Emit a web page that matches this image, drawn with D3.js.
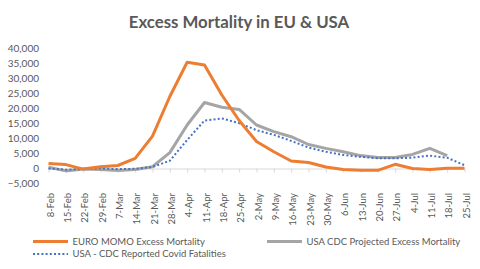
<!DOCTYPE html>
<html>
<head>
<meta charset="utf-8">
<script src="https://cdn.jsdelivr.net/npm/d3@7"></script>
<style>
  body { margin: 0; background: #fff; }
  svg { display: block; font-family: Lato, "Open Sans", sans-serif; }
</style>
</head>
<body>
<svg id="chart"></svg>
<script>
let width = 480;
let height = 269;

let weeks = ['8-Feb','15-Feb','22-Feb','29-Feb','7-Mar','14-Mar','21-Mar','28-Mar','4-Apr','11-Apr',
  '18-Apr','25-Apr','2-May','9-May','16-May','23-May','30-May','6-Jun','13-Jun','20-Jun',
  '27-Jun','4-Jul','11-Jul','18-Jul','25-Jul'];

let euroMomo = [1700, 1300, -200, 600, 1000, 3400, 10800, 24000, 35400, 34500,
  24500, 16000, 9000, 5600, 2500, 2000, 500, -300, -600, -600,
  1400, 0, -300, 100, 100];

let cdcProjected = [400, -800, -200, -300, -700, -300, 600, 5300, 14500, 22000,
  20400, 19700, 14500, 12300, 10600, 8000, 6700, 5600, 4300, 3700,
  3700, 4700, 6700, 4300, null];

let cdcReported = [0, -400, -200, 0, -200, -100, 500, 2600, 9500, 16000,
  16700, 15100, 12800, 11200, 9200, 7000, 5600, 4500, 3900, 3400,
  3400, 3600, 4300, 3600, 1100];

let yTicks = [-5000, 0, 5000, 10000, 15000, 20000, 25000, 30000, 35000, 40000];

let textColor = '#595959';

let svg = d3.select('#chart')
  .attr('width', width)
  .attr('height', height);

// title
svg.append('text')
  .attr('x', 239)
  .attr('y', 27.5)
  .attr('text-anchor', 'middle')
  .attr('font-size', '16.8px')
  .attr('font-weight', 'bold')
  .attr('fill', textColor)
  .text('Excess Mortality in EU & USA');

let x = d3.scalePoint()
  .domain(weeks)
  .range([48.5, 464.5]);

let y = d3.scaleLinear()
  .domain([-5000, 40000])
  .range([183.5, 48.5]);

// y axis labels
svg.append('g')
  .selectAll('text')
  .data(yTicks)
  .enter().append('text')
  .attr('x', 39)
  .attr('y', d => y(d))
  .attr('dy', '0.35em')
  .attr('text-anchor', 'end')
  .attr('font-size', '10px')
  .attr('fill', textColor)
  .text(d => d3.format(',')(d));

// x axis at zero
let axis_x = d3.axisBottom(x)
  .tickSize(4)
  .tickSizeOuter(0)
  .tickFormat('');

let gx = svg.append('g')
  .attr('transform', `translate(0, ${y(0)})`)
  .call(axis_x);
gx.select('.domain').attr('stroke', '#d9d9d9');
gx.selectAll('.tick line').attr('stroke', '#d9d9d9');

// rotated week labels
svg.append('g')
  .selectAll('text')
  .data(weeks)
  .enter().append('text')
  .attr('transform', d => `translate(${x(d) + 5}, 193) rotate(-90)`)
  .attr('text-anchor', 'end')
  .attr('font-size', '9.5px')
  .attr('fill', textColor)
  .text(d => d);

// lines
let line = d3.line()
  .defined(d => d.v !== null)
  .x(d => x(d.w))
  .y(d => y(d.v));

let series = [
  {name: 'USA CDC Projected Excess Mortality', values: cdcProjected, color: '#a5a5a5', w: 3, dash: null},
  {name: 'USA - CDC Reported Covid Fatalities', values: cdcReported, color: '#4472c4', w: 2, dash: '2,2.2'},
  {name: 'EURO MOMO Excess Mortality', values: euroMomo, color: '#ed7d31', w: 3, dash: null}
];

series.forEach(s => {
  svg.append('path')
    .datum(weeks.map((w, i) => ({w: w, v: s.values[i]})))
    .attr('fill', 'none')
    .attr('stroke', s.color)
    .attr('stroke-width', s.w)
    .attr('stroke-linejoin', 'round')
    .attr('stroke-dasharray', s.dash)
    .attr('d', line);
});

// legend
let legend = [
  {s: series[2], x: 33, y: 241.5},
  {s: series[0], x: 267, y: 241.5},
  {s: series[1], x: 33, y: 254}
];

let lg = svg.append('g')
  .selectAll('g')
  .data(legend)
  .enter().append('g')
  .attr('transform', d => `translate(${d.x}, ${d.y})`);

lg.append('line')
  .attr('x1', 0)
  .attr('x2', 35)
  .attr('stroke', d => d.s.color)
  .attr('stroke-width', d => d.s.w)
  .attr('stroke-dasharray', d => d.s.dash);

lg.append('text')
  .attr('x', 39.5)
  .attr('dy', '0.35em')
  .attr('font-size', '9.5px')
  .attr('fill', textColor)
  .text(d => d.s.name);
</script>
</body>
</html>
